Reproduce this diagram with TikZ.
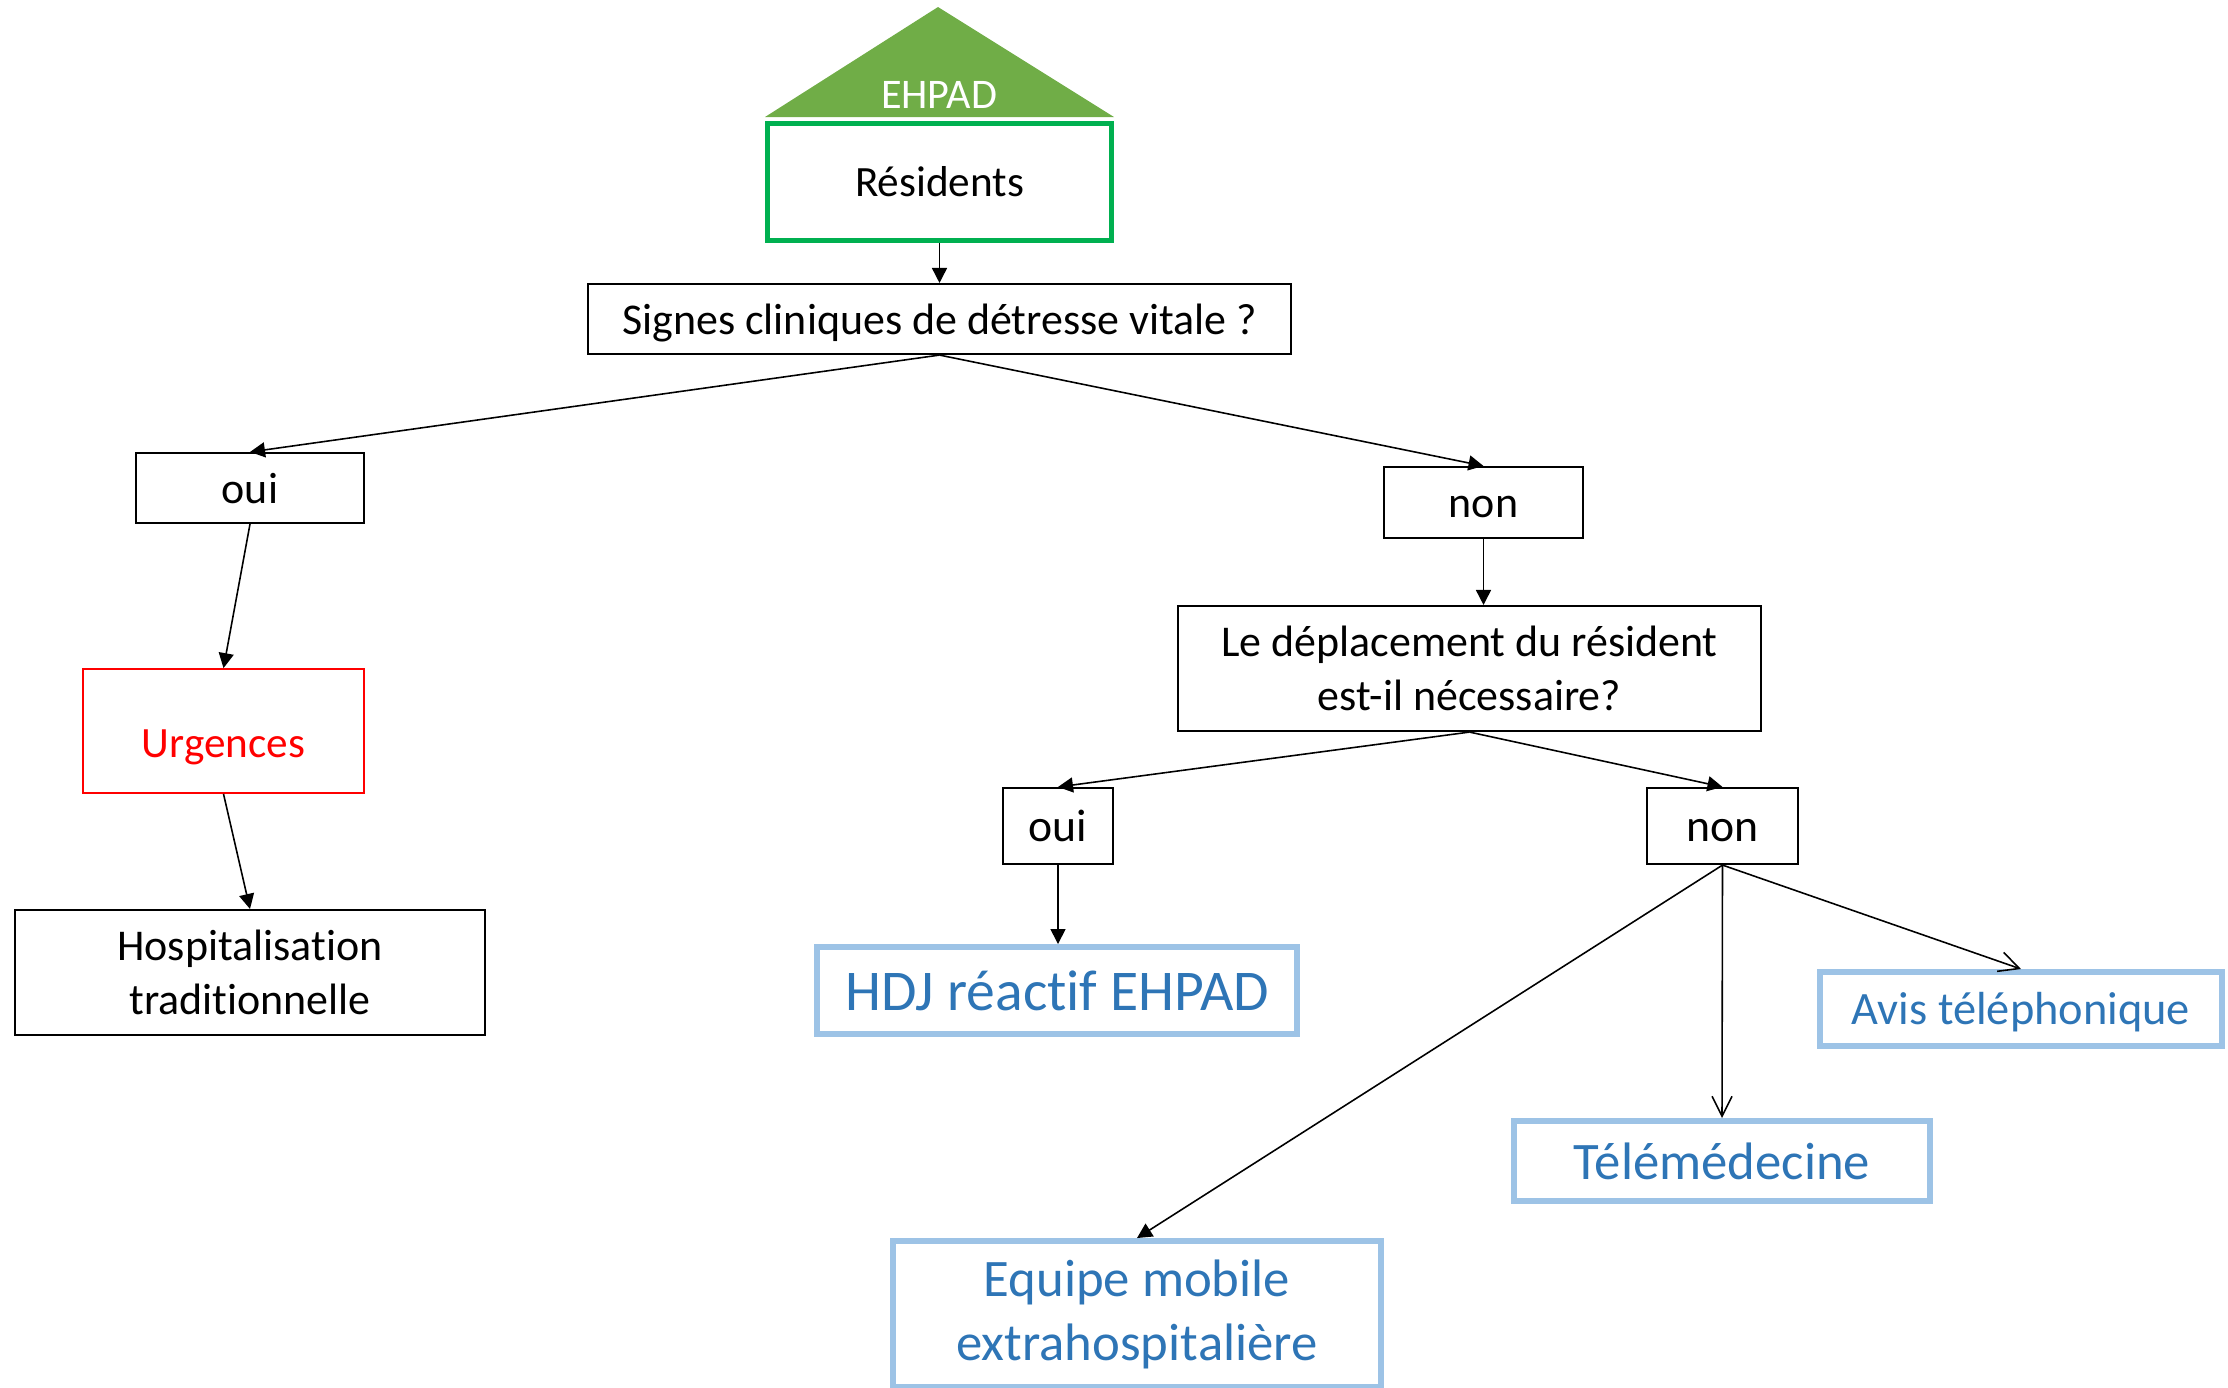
\documentclass[tikz,border=0pt]{standalone}
\usepackage{fontspec}
\setmainfont{Carlito}[Ligatures={NoCommon,NoContextual}]
\usetikzlibrary{arrows.meta,positioning}
\definecolor{ehpadgreen}{RGB}{112,173,71}
\definecolor{resgreen}{RGB}{0,176,80}
\definecolor{lightblue}{RGB}{157,195,230}
\definecolor{textblue}{RGB}{46,117,182}
\newcommand{\fsz}[1]{\fontsize{#1}{1.23\dimexpr#1pt\relax}\selectfont}
\newcommand{\nl}{\kern0pt}% stops the t-i ligature

\begin{document}
\begin{tikzpicture}[
  box/.style={draw=black, line width=0.6pt, inner sep=2pt, align=center, font=\fontsize{12.5}{15.4}\selectfont},
  gbox/.style={draw=resgreen, line width=1.4pt, inner sep=2pt, align=center, font=\fontsize{12.3}{15}\selectfont},
  rbox/.style={draw=red, line width=0.5pt, text=red, inner sep=2pt, align=center, font=\fontsize{12.3}{15}\selectfont},
  bbox/.style={draw=lightblue, line width=1.7pt, text=textblue, inner sep=2pt, align=center},
  oneline/.style={execute at begin node={\rule[-.269em]{0pt}{1.221em}}},
  arrow/.style={-{Triangle[length=1.5mm,width=1.5mm]}, line width=0.45pt},
  oarrow/.style={-{Straight Barb[length=2mm,width=2mm]}, line width=0.45pt}
]
\useasboundingbox (0,0) rectangle (22.28,-13.87);
% EHPAD roof and residents
\fill[ehpadgreen] (7.65,-1.17) -- (9.38,-0.07) -- (11.14,-1.17) -- cycle;
\node[text=white, font=\fontsize{12}{14}\selectfont] (ehpad) at (9.39,-0.95) {EHPAD};
\node[gbox, minimum width=3.44cm, minimum height=1.17cm] (res) at (9.395,-1.82) {Résidents};
\node[box, oneline, minimum width=7.03cm, minimum height=0.70cm] (signes) at (9.395,-3.19) {Signes cliniques de détresse vitale ?};
% left branch
\node[box, oneline, minimum width=2.28cm, minimum height=0.70cm] (oui1) at (2.50,-4.88) {oui};
\node[rbox, minimum width=2.81cm, minimum height=1.24cm, execute at begin node={\rule[-.269em]{0pt}{1.76em}}] (urg) at (2.235,-7.31) {Urgences};
\node[box, minimum width=4.70cm, minimum height=1.25cm] (hosp) at (2.50,-9.725) {Hospitalisat\nl ion\\trad\nl it\nl ionnelle};
% right branch
\node[box, oneline, minimum width=1.99cm, minimum height=0.71cm] (non1) at (14.835,-5.025) {non};
\node[box, minimum width=5.83cm, minimum height=1.25cm] (depl) at (14.695,-6.685) {Le déplacement du résident\\est-il nécessaire?};
\node[box, oneline, font=\fsz{13}, minimum width=1.10cm, minimum height=0.76cm] (oui2) at (10.58,-8.26) {oui};
\node[box, oneline, font=\fsz{13}, minimum width=1.51cm, minimum height=0.76cm] (non2) at (17.225,-8.26) {non};
\node[bbox, oneline, font=\fsz{16.4}, minimum width=4.80cm, minimum height=0.87cm] (hdj) at (10.57,-9.905) {HDJ réact\nl if EHPAD};
\node[bbox, oneline, font=\fsz{13.2}, minimum width=4.02cm, minimum height=0.74cm] (avis) at (20.21,-10.09) {Avis téléphonique};
\node[bbox, oneline, font=\fsz{15}, minimum width=4.16cm, minimum height=0.80cm] (tele) at (17.22,-11.61) {Télémédecine};
\node[bbox, font=\fontsize{15}{18.2}\selectfont, minimum width=4.88cm, minimum height=1.46cm] (equipe) at (11.37,-13.14) {Equipe mobile\\extrahospit\nl alière};
% connectors
\draw[arrow] (res) -- (signes);
\draw[arrow] (signes.south) -- (oui1.north);
\draw[arrow] (signes.south) -- (non1.north);
\draw[arrow] (oui1.south) -- (urg.north);
\draw[arrow] (urg.south) -- (hosp.north);
\draw[arrow] (non1.south) -- (non1.south |- depl.north);
\draw[arrow] (depl.south) -- (oui2.north);
\draw[arrow] (depl.south) -- (non2.north);
\draw[arrow] (oui2.south) -- (oui2.south |- hdj.north);
\draw[arrow] (non2.south) -- (equipe.north);
\draw[oarrow] (non2.south) -- (tele.north);
\draw[oarrow] (non2.south) -- (avis.north);
\end{tikzpicture}
\end{document}
